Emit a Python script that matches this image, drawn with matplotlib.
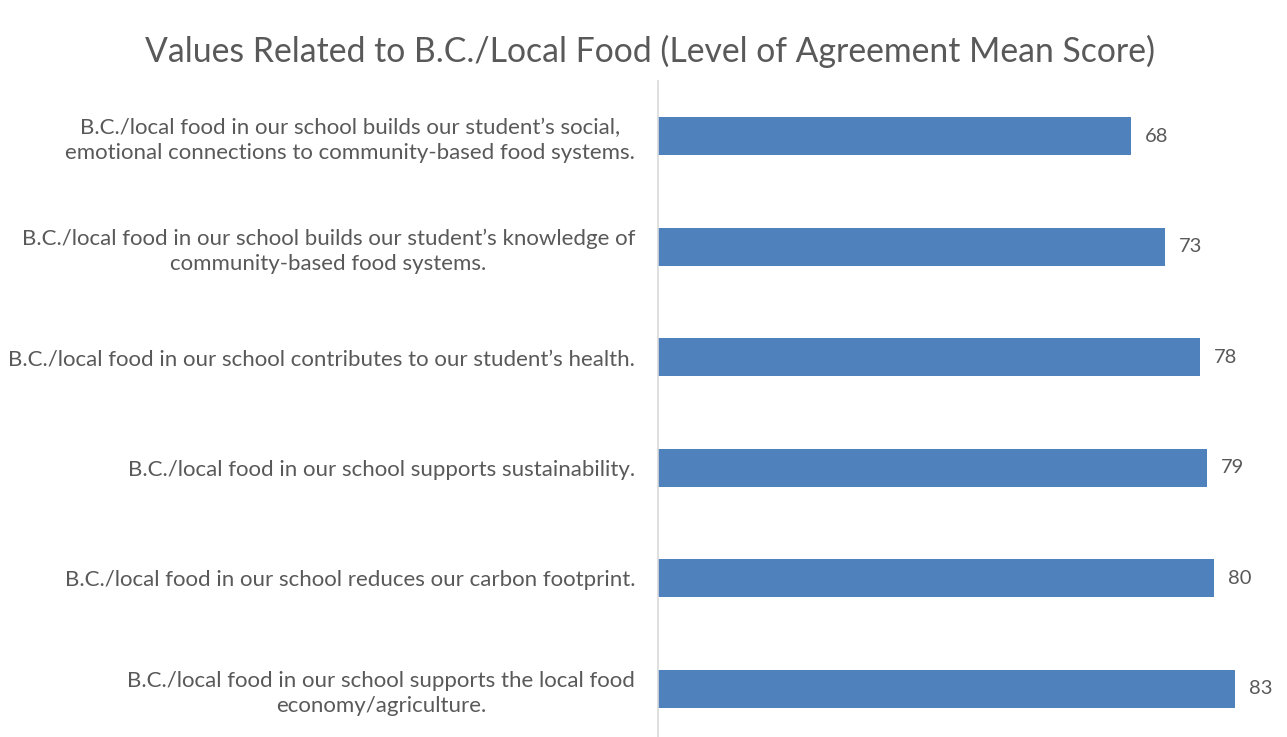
import matplotlib.pyplot as plt

plt.rcParams['font.family'] = ['Lato', 'DejaVu Sans']

labels = [
    "B.C./local food in our school builds our student\u2019s social,\nemotional connections to community-based food systems.",
    "B.C./local food in our school builds our student\u2019s knowledge of\ncommunity-based food systems.",
    "B.C./local food in our school contributes to our student\u2019s health.",
    "B.C./local food in our school supports sustainability.",
    "B.C./local food in our school reduces our carbon footprint.",
    "B.C./local food in our school supports the local food\neconomy/agriculture.",
]
scores = [68, 73, 78, 79, 80, 83]

text_col = "#595959"
bar_col = "#4F81BD"

fig = plt.figure(figsize=(12.87, 7.37), dpi=100)
ax = fig.add_axes([658 / 1287, -7 / 737, 622 / 1287, 663 / 737])

y = range(len(labels))
ax.barh(y, scores, height=0.34, color=bar_col)
ax.set_ylim(len(labels) - 0.5, -0.5)
ax.set_xlim(0, 89.5)

for yi, v in zip(y, scores):
    ax.text(v + 2.0, yi, str(v), va="center", ha="left", fontsize=14.5, color=text_col)

ax.set_yticks(list(y))
ax.set_yticklabels(labels, fontsize=16, color=text_col, multialignment="center",
                   linespacing=1.3)
ax.tick_params(axis="y", length=0, pad=16.5)
ax.set_xticks([])
for s in ["top", "right", "bottom"]:
    ax.spines[s].set_visible(False)
ax.spines["left"].set_color("#D9D9D9")
ax.spines["left"].set_linewidth(1.2)

fig.text(0.505, 0.93, "Values Related to B.C./Local Food (Level of Agreement Mean Score)",
         ha="center", va="center", fontsize=24.3, color=text_col)

fig.savefig("out.png", dpi=100)
